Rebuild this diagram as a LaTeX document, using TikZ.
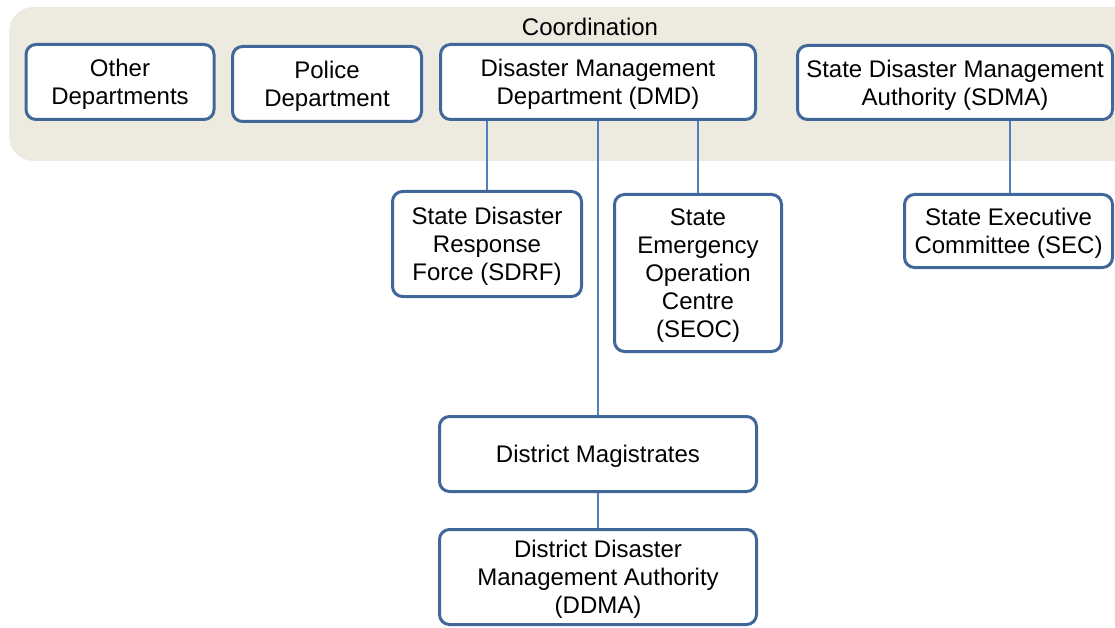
\documentclass[tikz,border=0pt]{standalone}
\usepackage{fontspec}
\setmainfont{Liberation Sans}
\definecolor{bgc}{RGB}{237,235,224}
\definecolor{boxc}{RGB}{65,103,154}
\definecolor{linec}{RGB}{79,129,189}
\begin{document}
\begin{tikzpicture}[x=1pt,y=-1pt,
  box/.style={draw=boxc, line width=3pt, fill=white, rounded corners=10pt, align=center,
    inner sep=2pt, text depth=0pt, font=\fontsize{24}{28}\selectfont},
  conn/.style={draw=linec, line width=2pt}]
\useasboundingbox (0,0) rectangle (1115,628);
\clip (0,0) rectangle (1115,628);
\fill[bgc, rounded corners=25pt] (9,7) rectangle (1140,161);
\node[font=\fontsize{24}{28}\selectfont] (coord) at (590,27) {Coordination};
\node[box, minimum width=188pt, minimum height=75pt] (other) at (120,82) {Other\\Departments};
\node[box, minimum width=189pt, minimum height=75pt] (police) at (327,84) {Police\\Department};
\node[box, minimum width=315pt, minimum height=75pt] (dmd) at (598,82) {Disaster Management\\Department (DMD)};
\node[box, minimum width=315pt, minimum height=74pt] (sdma) at (955,82.5) {State Disaster Management\\Authority (SDMA)};
\node[box, minimum width=208pt, minimum height=73pt] (sec) at (1008.5,231) {State Executive\\Committee (SEC)};
\node[box, minimum width=189pt, minimum height=105pt] (sdrf) at (487,244) {State Disaster\\Response\\Force (SDRF)};
\node[box, minimum width=167pt, minimum height=157pt] (seoc) at (698,273) {State\\Emergency\\Operation\\Centre\\(SEOC)};
\node[box, minimum width=317pt, minimum height=75pt] (dm) at (598,454) {District Magistrates};
\node[box, minimum width=317pt, minimum height=95pt] (ddma) at (598,577) {District Disaster\\Management Authority\\(DDMA)};
\draw[conn] (dmd.south -| sdrf.north) -- (sdrf.north);
\draw[conn] (dmd.south -| seoc.north) -- (seoc.north);
\draw[conn] (dmd.south) -- (dm.north);
\draw[conn] (dm.south) -- (ddma.north);
\draw[conn] (sdma.south -| 1010,0) -- (sec.north -| 1010,0);
\end{tikzpicture}
\end{document}
